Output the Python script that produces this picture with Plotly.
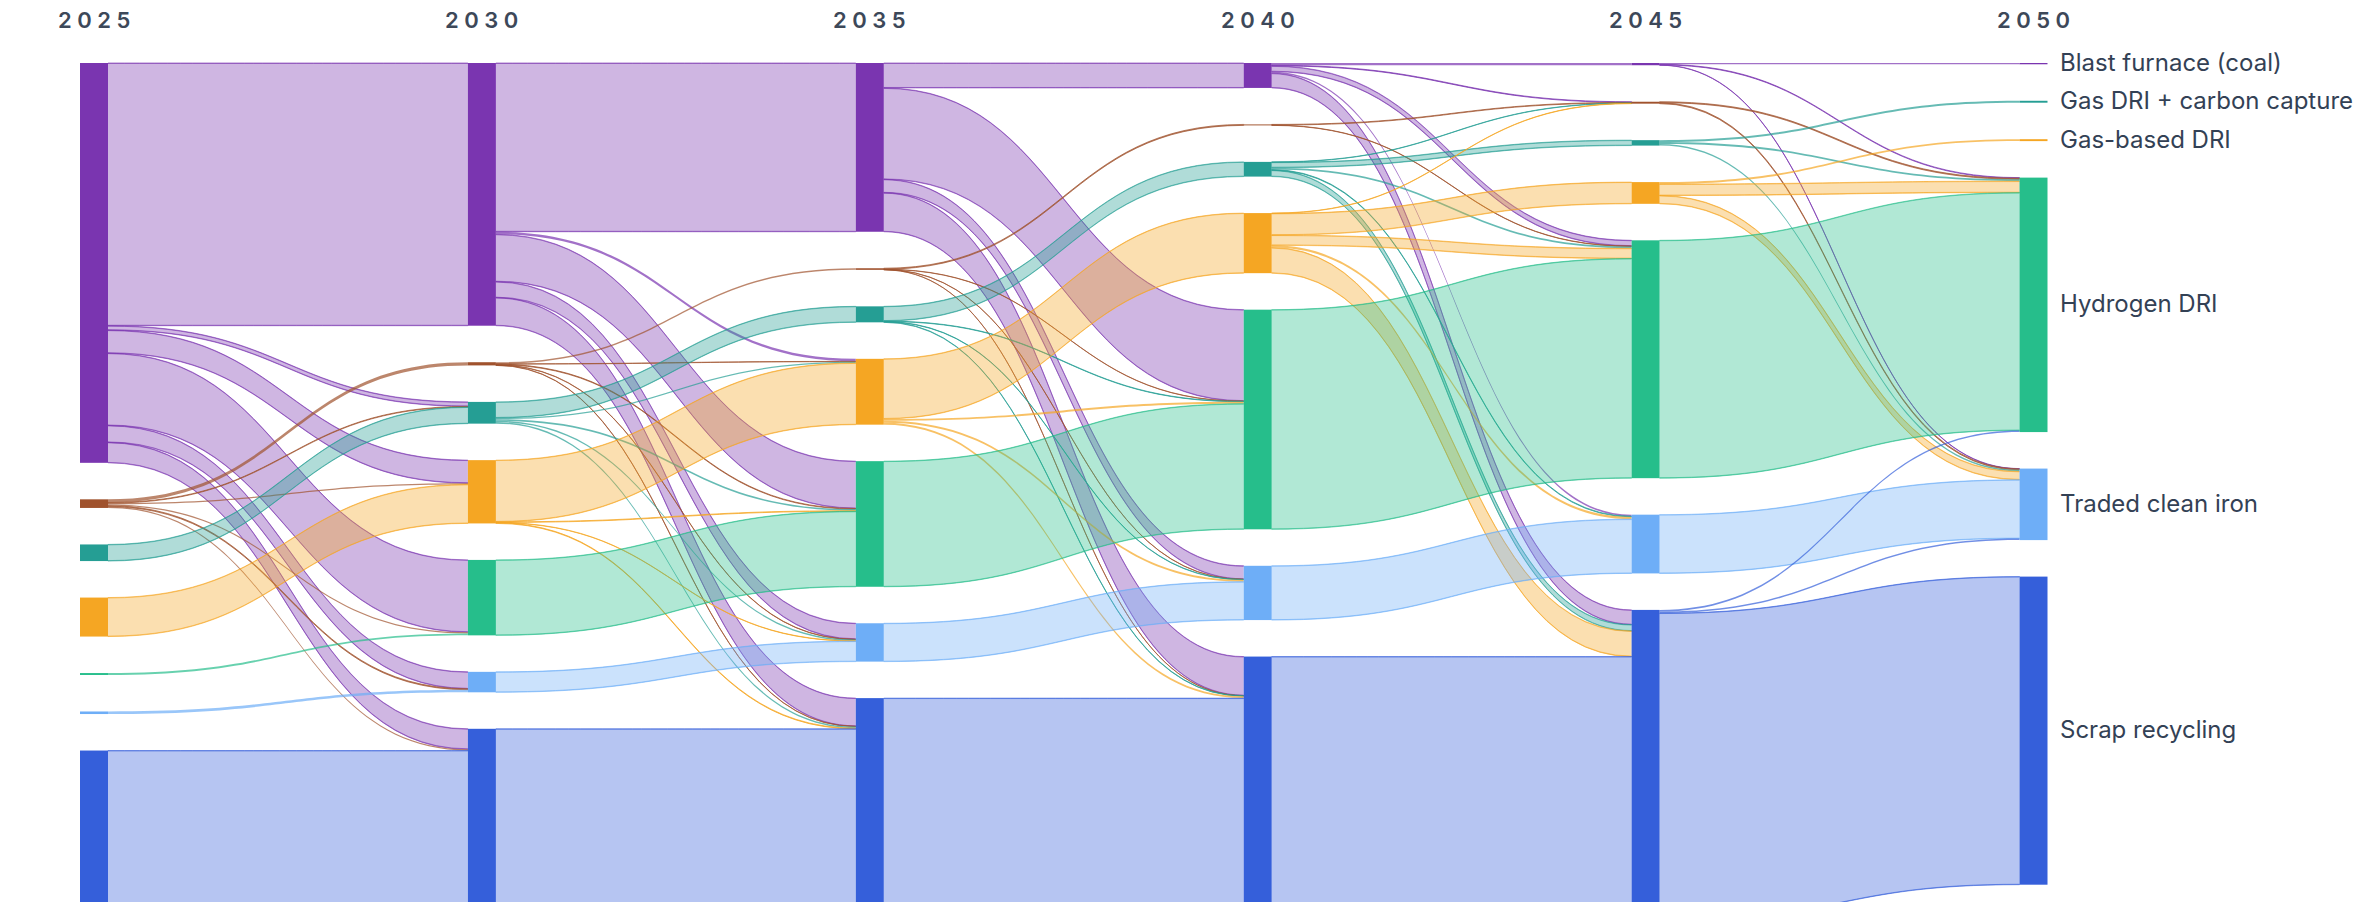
import plotly.graph_objects as go

# ---------------- data ----------------
years = ["2025", "2030", "2035", "2040", "2045", "2050"]
techs = ["Blast furnace (coal)", "Smelting reduction", "Gas DRI + carbon capture",
         "Gas-based DRI", "Hydrogen DRI", "Traded clean iron", "Scrap recycling"]
tech_colors = ["#7a35b0", "#a0522d", "#259e94", "#f5a623", "#26be8b", "#6eaef7", "#355fda"]

# share of production (%) moving between consecutive years
# rows = technology in earlier year, columns = technology in later year (order of `techs`)
flows_2025_2030 = [
    [41.1, 0.0, 0.7, 3.6, 11.3, 2.65, 3.2],
    [0.0, 0.5, 0.1, 0.2, 0.2, 0.15, 0.2],
    [0.0, 0.0, 2.6, 0.0, 0.0, 0.0, 0.0],
    [0.0, 0.0, 0.0, 6.1, 0.0, 0.0, 0.0],
    [0.0, 0.0, 0.0, 0.0, 0.3, 0.0, 0.0],
    [0.0, 0.0, 0.0, 0.0, 0.0, 0.4, 0.0],
    [0.0, 0.0, 0.0, 0.0, 0.0, 0.0, 26.7],
]
flows_2030_2035 = [
    [26.4, 0.0, 0.0, 0.4, 7.4, 2.5, 4.4],
    [0.0, 0.25, 0.0, 0.05, 0.1, 0.05, 0.05],
    [0.0, 0.0, 2.5, 0.2, 0.25, 0.2, 0.25],
    [0.0, 0.0, 0.0, 9.65, 0.1, 0.05, 0.1],
    [0.0, 0.0, 0.0, 0.0, 11.8, 0.0, 0.0],
    [0.0, 0.0, 0.0, 0.0, 0.0, 3.2, 0.0],
    [0.0, 0.0, 0.0, 0.0, 0.0, 0.0, 30.1],
]
flows_2035_2040 = [
    [3.9, 0.0, 0.0, 0.0, 14.3, 2.1, 6.1],
    [0.0, 0.15, 0.0, 0.0, 0.04, 0.03, 0.03],
    [0.0, 0.0, 2.3, 0.0, 0.07, 0.06, 0.07],
    [0.0, 0.0, 0.0, 9.4, 0.3, 0.3, 0.3],
    [0.0, 0.0, 0.0, 0.0, 19.65, 0.0, 0.0],
    [0.0, 0.0, 0.0, 0.0, 0.0, 6.0, 0.0],
    [0.0, 0.0, 0.0, 0.0, 0.0, 0.0, 34.9],
]
flows_2040_2045 = [
    [0.35, 0.1, 0.0, 0.0, 0.9, 0.25, 2.3],
    [0.0, 0.1, 0.0, 0.0, 0.05, 0.0, 0.0],
    [0.0, 0.05, 0.85, 0.0, 0.3, 0.1, 1.0],
    [0.0, 0.05, 0.0, 3.4, 1.6, 0.35, 4.0],
    [0.0, 0.0, 0.0, 0.0, 34.36, 0.0, 0.0],
    [0.0, 0.0, 0.0, 0.0, 0.0, 8.49, 0.0],
    [0.0, 0.0, 0.0, 0.0, 0.0, 0.0, 41.4],
]
flows_2045_2050 = [
    [0.2, 0.0, 0.0, 0.0, 0.1, 0.05, 0.0],
    [0.0, 0.0, 0.0, 0.0, 0.15, 0.15, 0.0],
    [0.0, 0.0, 0.3, 0.0, 0.3, 0.25, 0.0],
    [0.0, 0.0, 0.0, 0.3, 1.8, 1.3, 0.0],
    [0.0, 0.0, 0.0, 0.0, 37.21, 0.0, 0.0],
    [0.0, 0.0, 0.0, 0.0, 0.0, 9.19, 0.0],
    [0.0, 0.0, 0.0, 0.0, 0.25, 0.25, 48.2],
]
transitions = [flows_2025_2030, flows_2030_2035, flows_2035_2040,
               flows_2040_2045, flows_2045_2050]

# ---------------- layout constants ----------------
W, H = 2374, 902
M_TOP = 63
PLOT_H = H - M_TOP
NODE_THICK = 28
NODE_PAD = 33.3      # used by plotly to size nodes
GAP_PX = 36.5        # visual gap between stacked nodes
COL_X0, COL_STEP = 94.0, 387.9
EDGE_PX = 0.45       # thin outline strips drawn along each wide band


def rgba(hex_color, a):
    h = hex_color.lstrip("#")
    r, g, b = int(h[0:2], 16), int(h[2:4], 16), int(h[4:6], 16)
    return f"rgba({r},{g},{b},{a})"


n = len(techs)
col_values = [[sum(row) for row in transitions[0]]]
for F in transitions:
    col_values.append([sum(F[i][j] for i in range(n)) for j in range(n)])

# scale used by plotly (same rule as d3-sankey)
ky = min((PLOT_H - (sum(1 for v in vals if v > 1e-9) - 1) * NODE_PAD) / sum(vals)
         for vals in col_values)

node_idx = {}
n_label, n_color, n_x, n_y, n_custom = [], [], [], [], []
centers_px = {}
for c, vals in enumerate(col_values):
    y_top = 0.0
    for k, v in enumerate(vals):
        if v <= 1e-9:
            continue
        h = v * ky
        node_idx[(c, k)] = len(n_label)
        n_label.append("")
        n_color.append(tech_colors[k])
        n_x.append((COL_X0 + COL_STEP * c) / W)
        n_y.append((y_top + h / 2) / PLOT_H)
        centers_px[(c, k)] = y_top + h / 2
        n_custom.append(f"{techs[k]} — {years[c]}")
        y_top += h + GAP_PX

# links; a wide band is drawn as body plus two hairline strips so that it
# gets a darker outline in its own colour
edge_val = EDGE_PX / ky
src, tgt, val, l_color, l_custom = [], [], [], [], []


def add_link(s, t, v, color, label):
    src.append(s)
    tgt.append(t)
    val.append(v)
    l_color.append(color)
    l_custom.append(label)


for c, F in enumerate(transitions):
    for i in range(n):
        for j in range(n):
            v = F[i][j]
            if v <= 0:
                continue
            s, t = node_idx[(c, i)], node_idx[(c + 1, j)]
            label = f"{techs[i]} {years[c]} → {techs[j]} {years[c + 1]}: {v:.2f}%"
            width_px = v * ky
            if width_px > 4:
                add_link(s, t, edge_val, rgba(tech_colors[i], 0.55), label)
                add_link(s, t, v - 2 * edge_val, rgba(tech_colors[i], 0.36), label)
                add_link(s, t, edge_val, rgba(tech_colors[i], 0.55), label)
            else:
                add_link(s, t, v, rgba(tech_colors[i], 0.7), label)

fig = go.Figure(go.Sankey(
    arrangement="fixed",
    node=dict(
        label=n_label, color=n_color, x=n_x, y=n_y,
        thickness=NODE_THICK, pad=NODE_PAD,
        line=dict(width=0),
        customdata=n_custom,
        hovertemplate="%{customdata}<br>%{value:.1f}%<extra></extra>",
    ),
    link=dict(
        source=src, target=tgt, value=val, color=l_color,
        customdata=l_custom,
        hovertemplate="%{customdata}<extra></extra>",
    ),
))

annotations = []
for c, yr in enumerate(years):
    annotations.append(dict(
        x=(COL_X0 + COL_STEP * c) / W, y=1 + (M_TOP - 20) / PLOT_H,
        xref="paper", yref="paper", xanchor="center", yanchor="middle",
        text="\u2005".join(yr), showarrow=False,
        font=dict(family="Inter, Roboto, sans-serif", size=22, color="#3d4859", weight=600),
    ))
last = len(years) - 1
for k, t in enumerate(techs):
    if (last, k) in centers_px:
        annotations.append(dict(
            x=(COL_X0 + COL_STEP * last + NODE_THICK / 2 + 10) / W,
            y=1 - centers_px[(last, k)] / PLOT_H,
            xref="paper", yref="paper", xanchor="left", yanchor="middle",
            yshift=1,
            text=t, showarrow=False,
            font=dict(family="Inter, Roboto, sans-serif", size=24, color="#334155"),
        ))

fig.update_layout(
    width=W, height=H,
    margin=dict(l=0, r=0, t=M_TOP, b=0),
    paper_bgcolor="white", plot_bgcolor="white",
    annotations=annotations,
    font=dict(family="Inter, Roboto, sans-serif"),
)

fig.write_html("out.html")
